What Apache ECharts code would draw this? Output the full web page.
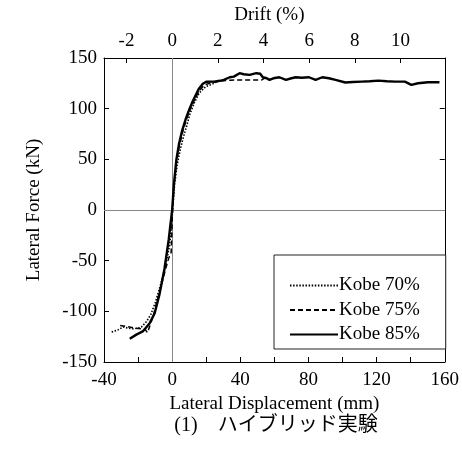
<!DOCTYPE html>
<html>
<head>
<meta charset="utf-8">
<script src="https://cdn.jsdelivr.net/npm/echarts@6/dist/echarts.min.js"></script>
<style>
  html, body { margin: 0; padding: 0; background: #fff; }
  #chart { width: 462px; height: 458px; }
</style>
</head>
<body>
<div id="chart"></div>
<script>
// Lateral displacement (mm) vs lateral force (kN), hybrid tests
const seriesNames = ['Kobe 70%', 'Kobe 75%', 'Kobe 85%'];

const kobe70 = [
  [-35.5, -120.5], [-32, -118.5], [-28.8, -115.5], [-26, -116.5], [-23, -117.2],
  [-20, -116.5], [-18, -115.5], [-15, -110], [-12.5, -103], [-10, -92],
  [-7.5, -78], [-5, -62], [-3, -48], [-1.5, -35], [-0.5, -18], [0.3, 0],
  [1.4, 25], [3, 45], [4.8, 60], [6.6, 72], [8.7, 84], [10.3, 94],
  [12.9, 105.5], [15.8, 115.3], [18, 119], [19.7, 121.8], [22.6, 123.5],
  [25, 125.5], [27, 127]
];

const kobe75 = [
  [-30.5, -114], [-25, -115.5], [-20, -117], [-16, -117.5], [-14.5, -121],
  [-13, -114], [-11, -104], [-8.5, -88], [-6, -72], [-3.5, -56], [-1.5, -45],
  [-0.6, -42], [-0.3, -30], [0.2, 0], [1.1, 25], [2.6, 48], [4.3, 64], [6.2, 77],
  [8.5, 90], [11, 101], [13.5, 110], [16, 118], [19, 123.5], [24, 126],
  [30, 127.5], [34, 128], [38, 128.4], [45.9, 128.4], [52.6, 128.4], [54, 130]
];

const kobe85 = [
  [-24.9, -127], [-21, -123], [-17, -119.5], [-13.3, -112], [-10.3, -102],
  [-7.4, -83], [-4.5, -58], [-2, -29], [0, 0], [1, 25], [2.5, 50], [4, 65],
  [5.8, 78], [8, 90], [10, 99], [12, 107], [14, 114], [15.8, 120], [18, 124.5],
  [20, 126.5], [24.5, 126.7], [28, 127.5], [30.3, 128.4], [33.8, 131],
  [36.2, 131.6], [39.6, 135], [42, 134], [45.5, 133.3], [49.4, 135],
  [51.7, 134.5], [53.2, 131], [55.5, 130], [57.1, 128.4], [59.4, 130],
  [62.9, 131], [66.8, 128.4], [70, 130], [72.6, 131], [76, 130.5], [80.3, 131],
  [84.2, 128.4], [88.1, 131], [92, 130], [95.9, 128.4], [101.7, 125.8],
  [106, 126.3], [111.3, 126.7], [116, 127], [121, 127.7], [126, 127],
  [130.8, 126.7], [136.6, 126.7], [140.4, 123.5], [144.3, 125.1],
  [150.1, 126.1], [156.9, 126.1]
];

// Top axis: drift ratio (%) ticks; 1 % drift = 13.4 mm of displacement
const driftTicks = [-2, 0, 2, 4, 6, 8, 10];
const mmPerDrift = 13.4;

const caption = '(1)\u3000ハイブリッド実験';

const serif = "'Liberation Serif', 'Times New Roman', serif";
const fs = 19;

const chart = echarts.init(document.getElementById('chart'), null, { renderer: 'canvas' });

const tickStyle = { show: true, inside: true, length: 5, lineStyle: { color: '#000', width: 1 } };
const lineStyleAxis = { show: true, onZero: false, lineStyle: { color: '#000', width: 1 } };
const labelStyle = { fontFamily: serif, fontSize: fs, color: '#000' };

chart.setOption({
  animation: false,
  backgroundColor: '#fff',
  grid: { left: 104, right: 14, top: 58, bottom: 96, containLabel: false },
  legend: {
    data: seriesNames,
    orient: 'vertical',
    align: 'left',
    left: 274,
    top: 255,
    padding: [21, 26, 5, 15],
    itemGap: 5.5,
    itemWidth: 48,
    itemHeight: 14,
    selectedMode: false,
    itemStyle: { opacity: 0 },
    backgroundColor: '#fff',
    borderColor: '#222',
    borderWidth: 1,
    borderRadius: 0,
    textStyle: { fontFamily: serif, fontSize: fs, color: '#000', padding: [0, 0, 0, -4] }
  },
  xAxis: [
    {
      type: 'value',
      position: 'bottom',
      min: -40,
      max: 160,
      interval: 20,
      name: 'Lateral Displacement (mm)',
      nameLocation: 'middle',
      nameGap: 30,
      nameTextStyle: labelStyle,
      axisLine: lineStyleAxis,
      axisTick: tickStyle,
      axisLabel: Object.assign({
        margin: 9,
        formatter: v => (v % 40 === 0 ? String(v) : '')
      }, labelStyle),
      splitLine: { show: false }
    },
    {
      type: 'value',
      position: 'top',
      min: -40,
      max: 160,
      name: 'Drift (%)',
      nameLocation: 'middle',
      nameGap: 33,
      nameTextStyle: Object.assign({ padding: [0, 10, 0, 0] }, labelStyle),
      axisLine: lineStyleAxis,
      axisTick: Object.assign({ customValues: driftTicks.map(d => d * mmPerDrift) }, tickStyle),
      axisLabel: Object.assign({
        margin: 7,
        customValues: driftTicks.map(d => d * mmPerDrift),
        formatter: v => String(Math.round(v / mmPerDrift))
      }, labelStyle),
      splitLine: { show: false }
    }
  ],
  yAxis: [
    {
      type: 'value',
      position: 'left',
      min: -150,
      max: 150,
      interval: 50,
      name: 'Lateral Force (kN)',
      nameLocation: 'middle',
      nameGap: 60,
      nameTextStyle: labelStyle,
      axisLine: lineStyleAxis,
      axisTick: tickStyle,
      axisLabel: Object.assign({ margin: 7 }, labelStyle),
      splitLine: { show: false }
    },
    {
      type: 'value',
      position: 'right',
      min: -150,
      max: 150,
      interval: 50,
      axisLine: lineStyleAxis,
      axisTick: tickStyle,
      axisLabel: { show: false },
      splitLine: { show: false }
    }
  ],
  graphic: [
    {
      type: 'text',
      x: 276,
      y: 426,
      style: {
        text: caption,
        font: "20px 'Liberation Serif', 'Noto Sans CJK JP', serif",
        fill: '#000',
        align: 'center',
        verticalAlign: 'middle'
      }
    }
  ],
  series: [
    {
      name: seriesNames[0],
      type: 'line',
      xAxisIndex: 0,
      yAxisIndex: 0,
      data: kobe70,
      symbol: 'none',
      smooth: false,
      lineStyle: { color: '#000', width: 1.6, type: [1.5, 1.6] },
      itemStyle: { color: '#000' },
      markLine: {
        silent: true,
        symbol: 'none',
        z: 1,
        label: { show: false },
        lineStyle: { color: '#888', width: 1, type: 'solid' },
        data: [{ xAxis: 0 }, { yAxis: 0 }]
      }
    },
    {
      name: seriesNames[1],
      type: 'line',
      xAxisIndex: 0,
      yAxisIndex: 0,
      data: kobe75,
      symbol: 'none',
      lineStyle: { color: '#000', width: 1.5, type: [5, 3] },
      itemStyle: { color: '#000' }
    },
    {
      name: seriesNames[2],
      type: 'line',
      xAxisIndex: 0,
      yAxisIndex: 0,
      data: kobe85,
      symbol: 'none',
      lineStyle: { color: '#000', width: 2.4, type: 'solid' },
      itemStyle: { color: '#000' }
    }
  ]
});
</script>
</body>
</html>
